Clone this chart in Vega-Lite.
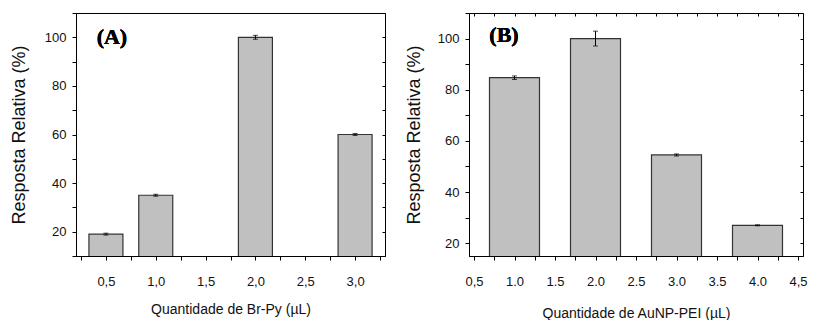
{
  "$schema": "https://vega.github.io/schema/vega-lite/v6.json",
  "padding": {"left": 9, "top": 12, "right": 5, "bottom": 0},
  "spacing": 18,
  "datasets": {
    "a": [
      {"x": 0.5, "v": 19, "err": 0.4},
      {"x": 1.0, "v": 35, "err": 0.4},
      {"x": 2.0, "v": 100, "err": 0.8},
      {"x": 3.0, "v": 60, "err": 0.4}
    ],
    "b": [
      {"x": 1.0, "v": 84.7, "err": 0.7},
      {"x": 2.0, "v": 100, "err": 2.9},
      {"x": 3.0, "v": 54.5, "err": 0.4},
      {"x": 4.0, "v": 27, "err": 0.2}
    ]
  },
  "hconcat": [
    {
      "width": 309,
      "height": 243,
      "data": {"name": "a"},
      "resolve": {"axis": {"y": "independent", "x": "independent"}},
      "layer": [
        {
          "mark": {"type": "bar", "width": 34, "fill": "#c0c0c0", "stroke": "#333333", "strokeWidth": 1.2, "clip": true},
          "encoding": {
            "x": {"field": "x", "type": "quantitative",
              "scale": {"domain": [0.25, 3.25], "nice": false, "zero": false},
              "axis": {"values": [0.25,0.5,0.75,1,1.25,1.5,1.75,2,2.25,2.5,2.75,3,3.25],
                "labelExpr": "abs(datum.value*2 - round(datum.value*2)) < 0.001 ? replace(format(datum.value, '.1f'), '.', ',') : ''",
                "title": "Quantidade de Br-Py (µL)", "tickSize": 4, "labelPadding": 15, "titlePadding": 14, "titleFontSize": 14, "labelFlush": false}},
            "y": {"field": "v", "type": "quantitative",
              "scale": {"domain": [10, 110], "nice": false, "zero": false},
              "axis": {"values": [10,20,30,40,50,60,70,80,90,100,110],
                "labelExpr": "(datum.value % 20 == 0 && datum.value >= 20 && datum.value <= 100) ? datum.value : ''",
                "title": "Resposta Relativa (%)", "tickSize": 4, "labelPadding": 6, "titlePadding": 16, "titleFontSize": 18}}
          }
        },
        {
          "mark": {"type": "errorbar", "ticks": {"size": 5, "color": "black"}, "color": "black"},
          "encoding": {
            "x": {"field": "x", "type": "quantitative", "axis": null},
            "y": {"field": "v", "type": "quantitative", "axis": null},
            "yError": {"field": "err"}
          }
        },
        {
          "mark": {"type": "point", "opacity": 0},
          "encoding": {
            "y": {"field": "v", "type": "quantitative",
              "axis": {"orient": "right", "values": [10,20,30,40,50,60,70,80,90,100,110], "labels": false, "domain": false, "tickSize": -3, "title": null}}
          }
        },
        {
          "mark": {"type": "text", "text": "(A)", "font": "Liberation Serif", "fontWeight": "bold", "fontSize": 22, "baseline": "middle", "align": "center", "color": "black"},
          "encoding": {
            "x": {"datum": 0.56, "type": "quantitative", "axis": null},
            "y": {"datum": 100, "type": "quantitative", "axis": null}
          }
        }
      ]
    },
    {
      "width": 334,
      "height": 243,
      "data": {"name": "b"},
      "resolve": {"axis": {"y": "independent", "x": "independent"}},
      "layer": [
        {
          "mark": {"type": "bar", "width": 50, "fill": "#c0c0c0", "stroke": "#333333", "strokeWidth": 1.2, "clip": true},
          "encoding": {
            "x": {"field": "x", "type": "quantitative",
              "scale": {"domain": [0.5, 4.5], "nice": false, "zero": false},
              "axis": {"values": [0.5,0.75,1,1.25,1.5,1.75,2,2.25,2.5,2.75,3,3.25,3.5,3.75,4,4.25,4.5],
                "labelExpr": "abs(datum.value*2 - round(datum.value*2)) < 0.001 ? ((datum.value == 0.5 || datum.value == 4.5) ? replace(format(datum.value, '.1f'), '.', ',') : format(datum.value, '.1f')) : ''",
                "title": "Quantidade de AuNP-PEI (µL)", "tickSize": 4, "labelPadding": 15, "titlePadding": 18, "titleFontSize": 14, "labelFlush": false}},
            "y": {"field": "v", "type": "quantitative",
              "scale": {"domain": [15, 110], "nice": false, "zero": false},
              "axis": {"values": [20,30,40,50,60,70,80,90,100,110],
                "labelExpr": "(datum.value % 20 == 0 && datum.value >= 20 && datum.value <= 100) ? datum.value : ''",
                "title": "Resposta Relativa (%)", "tickSize": 4, "labelPadding": 6, "titlePadding": 14, "titleFontSize": 18}}
          }
        },
        {
          "mark": {"type": "errorbar", "ticks": {"size": 5, "color": "black"}, "color": "black"},
          "encoding": {
            "x": {"field": "x", "type": "quantitative", "axis": null},
            "y": {"field": "v", "type": "quantitative", "axis": null},
            "yError": {"field": "err"}
          }
        },
        {
          "mark": {"type": "point", "opacity": 0},
          "encoding": {
            "x": {"field": "x", "type": "quantitative",
              "axis": {"orient": "top", "values": [0.5,0.75,1,1.25,1.5,1.75,2,2.25,2.5,2.75,3,3.25,3.5,3.75,4,4.25,4.5], "labels": false, "domain": false, "tickSize": -3, "title": null}},
            "y": {"field": "v", "type": "quantitative",
              "axis": {"orient": "right", "values": [20,30,40,50,60,70,80,90,100,110], "labels": false, "domain": false, "tickSize": -3, "title": null}}
          }
        },
        {
          "mark": {"type": "text", "text": "(B)", "font": "Liberation Serif", "fontWeight": "bold", "fontSize": 22, "baseline": "middle", "align": "center", "color": "black"},
          "encoding": {
            "x": {"datum": 0.87, "type": "quantitative", "axis": null},
            "y": {"datum": 101.4, "type": "quantitative", "axis": null}
          }
        }
      ]
    }
  ],
  "config": {
    "view": {"stroke": "black", "strokeWidth": 1},
    "axis": {
      "labelFont": "Liberation Sans", "titleFont": "Liberation Sans",
      "labelFontSize": 13, "labelColor": "#111111", "titleColor": "#111111",
      "titleFontWeight": "normal", "domainColor": "black", "tickColor": "black", "grid": false
    }
  }
}
